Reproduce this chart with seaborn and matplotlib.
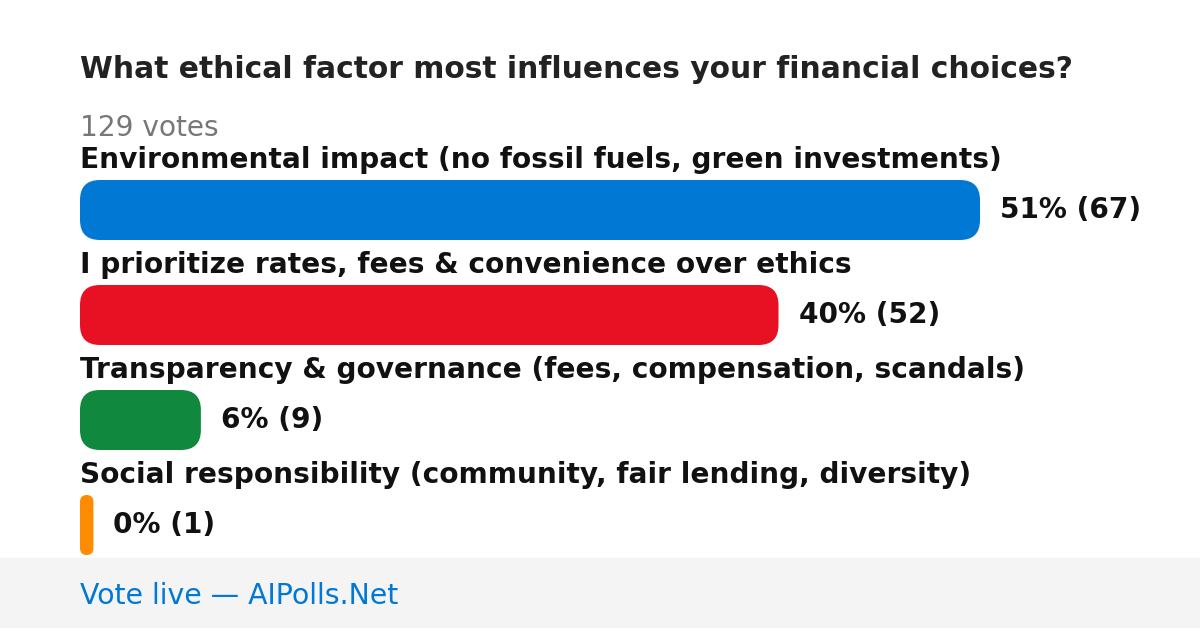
import matplotlib
matplotlib.use("Agg")
import matplotlib.pyplot as plt
import seaborn as sns
import pandas as pd
from matplotlib.patches import FancyBboxPatch, Rectangle
from matplotlib.transforms import IdentityTransform

# ---- data ----
title = "What ethical factor most influences your financial choices?"
total_votes_label = "129 votes"
categories = [
    "Environmental impact (no fossil fuels, green investments)",
    "I prioritize rates, fees & convenience over ethics",
    "Transparency & governance (fees, compensation, scandals)",
    "Social responsibility (community, fair lending, diversity)",
]
votes = [67, 52, 9, 1]
percents = [51, 40, 6, 0]
colors = ["#0078D4", "#E81123", "#10893E", "#FF8C00"]
footer = "Vote live — AIPolls.Net"

# ---- layout (pixels) ----
W, H, DPI = 1200, 628, 100
left_px = 80
max_bar_px = 900
first_center_px = 210
step_px = 105
bar_px = 60

sns.set_theme(style="white")
plt.rcParams["font.family"] = ["DejaVu Sans"]

fig = plt.figure(figsize=(W / DPI, H / DPI), dpi=DPI)
fig.patch.set_facecolor("white")
ax = fig.add_axes([0, 0, 1, 1])

px_per_vote = max_bar_px / max(votes)
df = pd.DataFrame({"cat": categories, "votes": votes})
sns.barplot(data=df, y="cat", x="votes", hue="cat", palette=colors,
            orient="h", width=bar_px / step_px, legend=False, ax=ax)

ax.set_xlim(-left_px / px_per_vote, (W - left_px) / px_per_vote)
ax.set_ylim((H - first_center_px) / step_px, -first_center_px / step_px)
ax.axis("off")

def ypx(py):
    return (py - first_center_px) / step_px

# replace bars with rounded versions (in pixel space)
fig.canvas.draw()
patches = list(ax.patches)
for p, c in zip(patches, colors):
    bb = p.get_window_extent()
    w, h = bb.width, bb.height
    r = min(20, w / 2, h / 2)
    fb = FancyBboxPatch((bb.x0 + r, bb.y0 + r), max(w - 2 * r, 0), max(h - 2 * r, 0),
                        boxstyle=f"round,pad={r},rounding_size={r}",
                        transform=IdentityTransform(), facecolor=c,
                        edgecolor="none", zorder=3)
    fig.patches.append(fb)
    p.set_visible(False)

# footer band
fig.patches.append(Rectangle((0, 0), 1, 70 / H, transform=fig.transFigure,
                             facecolor="#F4F4F4", edgecolor="none", zorder=0))

FS = 20.2
# texts
ax.text(0, ypx(78), title, fontsize=21.4, fontweight="bold", color="#222222",
        va="baseline", ha="left")
ax.text(0, ypx(136), total_votes_label, fontsize=FS, color="#777777",
        va="baseline", ha="left")
for i, (cat, v, pc) in enumerate(zip(categories, votes, percents)):
    ax.text(0, i + ypx(168), cat, fontsize=FS, fontweight="bold",
            color="#111111", va="baseline", ha="left")
    ax.text(v + 20 / px_per_vote, i + ypx(218), f"{pc}% ({v})", fontsize=FS,
            fontweight="bold", color="#111111", va="baseline", ha="left")

fig.text(left_px / W, 1 - 604 / H, footer, fontsize=20.4, color="#0078D4",
         va="baseline", ha="left")

fig.savefig("out.png", dpi=DPI)
